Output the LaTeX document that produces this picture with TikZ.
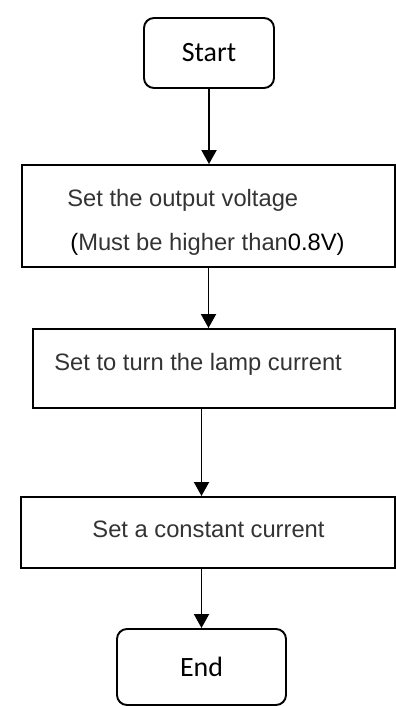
\documentclass[tikz,border=0pt]{standalone}
\usepackage{fontspec}
\setmainfont{Liberation Sans}
\newfontfamily\calibri{Carlito}
\usepackage{xcolor}
\definecolor{txtgray}{RGB}{51,51,51}
\usepackage{tikz}
\usetikzlibrary{arrows.meta, positioning, calc}

\tikzset{
  termbox/.style={draw=black, line width=1.1pt, rounded corners=0.2cm,
                  font=\calibri\fontsize{15.9}{19}\selectfont, inner sep=0pt},
  procbox/.style={draw=black, line width=1.1pt, inner sep=0pt},
  proctext/.style={font=\fontsize{13.5}{16}\selectfont, text=txtgray, inner sep=0pt},
  flowarrow/.style={-{Triangle[length=0.28cm, width=0.3cm]}, line width=1.1pt}
}

\begin{document}
\begin{tikzpicture}

\useasboundingbox (0,0) rectangle (7.92,-14.12);

% --- Terminals ---
\node[termbox, minimum width=2.6cm, minimum height=1.4cm] (start) at (4.18,-1.06) {Start};
\node[termbox, minimum width=3.38cm, minimum height=1.52cm] (stop) at (4.03,-13.34) {End};

% --- Process boxes ---
\node[procbox, minimum width=7.46cm, minimum height=2.04cm] (setvolt) at (4.17,-4.32) {};
\node[procbox, minimum width=7.24cm, minimum height=1.58cm] (setlamp) at (4.28,-7.37) {};
\node[procbox, minimum width=7.48cm, minimum height=1.42cm] (setconst) at (4.16,-10.65) {};

% Box texts
\node[proctext, anchor=base west] (volttext) at (1.34,-4.12) {Set the output voltage};
\node[proctext, anchor=base west] (voltnote) at (1.40,-5.00)
     {\textcolor{black}{(}Must be higher than\textcolor{black}{0.8V)}};
\node[proctext, anchor=base west] (lamptext) at (1.08,-7.40) {Set to turn the lamp current};
\node[proctext, anchor=base] (consttext) at (4.17,-10.74) {Set a constant current};

% --- Connectors ---
\draw[flowarrow] (start.south) -- (start.south |- setvolt.north);
\draw[flowarrow] (setvolt.south) -- (setvolt.south |- setlamp.north);
\draw[flowarrow] (stop.north |- setlamp.south) -- (stop.north |- setconst.north);
\draw[flowarrow] (stop.north |- setconst.south) -- (stop.north);

\end{tikzpicture}
\end{document}
